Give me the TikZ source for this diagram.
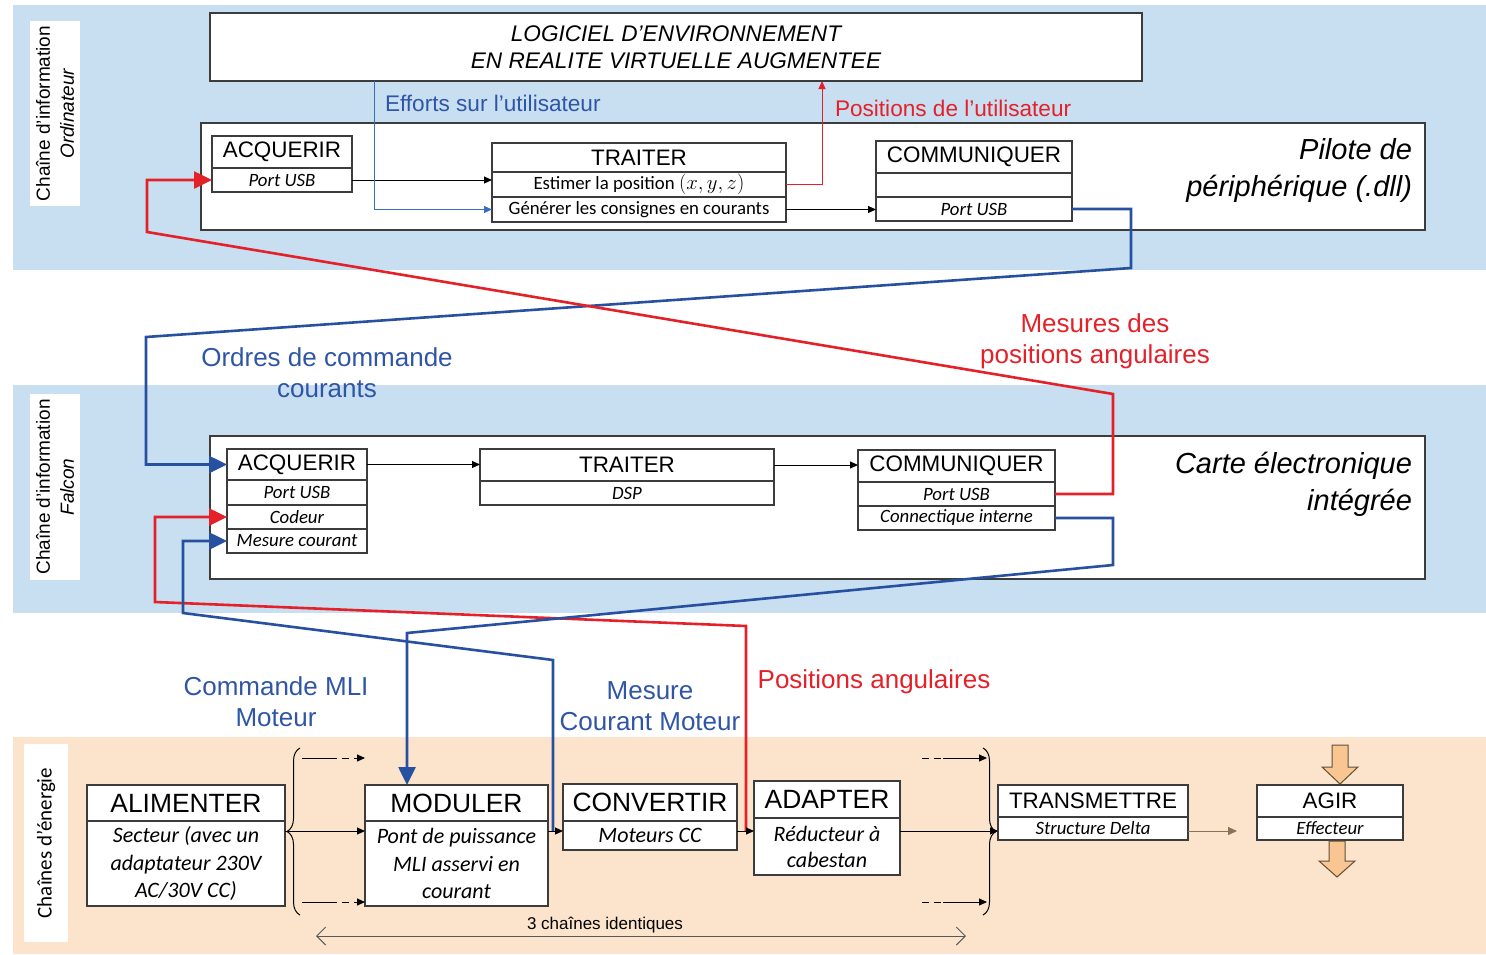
\documentclass[tikz,border=0pt]{standalone}
\usepackage{fontspec}
\setmainfont{Liberation Sans}
\newfontfamily\cali{Carlito}
\usetikzlibrary{positioning,arrows.meta,decorations.pathreplacing}

\definecolor{bgblue}{HTML}{C8DFF2}
\definecolor{bgpeach}{HTML}{FCE4CC}
\definecolor{boxline}{HTML}{3C3C3C}
\definecolor{cred}{HTML}{E42028}
\definecolor{cblue}{HTML}{2850A0}
\definecolor{tblue}{HTML}{2F55A6}
\definecolor{lblue}{HTML}{3A6CC2}
\definecolor{cbrown}{HTML}{8A7152}
\definecolor{corange}{HTML}{F9C590}

\newcommand{\fhead}{\fontsize{22.4}{26}\selectfont}
\newcommand{\fbighead}{\fontsize{26.4}{30}\selectfont}
\newcommand{\fsub}{\cali\itshape\fontsize{18.8}{22}\selectfont}
\newcommand{\fsubr}{\cali\fontsize{18.8}{22}\selectfont}
\newcommand{\fbody}{\cali\itshape\fontsize{22}{27.5}\selectfont}
\newcommand{\flabel}{\fontsize{26}{31}\selectfont}
\newcommand{\fsmall}{\fontsize{22.6}{27}\selectfont}
\newcommand{\flogi}{\itshape\fontsize{22.6}{27}\selectfont}
\newcommand{\fbig}{\itshape\fontsize{29}{37}\selectfont}
\newcommand{\fside}{\fontsize{19}{24}\selectfont}
\newcommand{\fmath}{\fontsize{21.5}{22}\selectfont}

\begin{document}
\begin{tikzpicture}[x=1pt,y=-1pt,
    every node/.style={inner sep=0pt,outer sep=0pt},
    cell/.style={draw=boxline,line width=1.2pt,fill=white,anchor=north west},
    hd/.style={cell,font=\fhead},
    bhd/.style={cell,font=\fbighead},
    sub/.style={cell,font=\fsub},
    subr/.style={cell,font=\fsubr},
    body/.style={cell,font=\fbody,align=center},
    frame/.style={draw=boxline,line width=1.5pt,fill=white,anchor=north west},
    side/.style={fill=white,rotate=90,align=center,font=\fside},
    arr/.style={line width=1pt,-{Triangle[length=8pt,width=7pt]}},
    arrblue/.style={arr,draw=lblue,-{Triangle[length=8pt,width=7pt,fill=lblue]}},
    arrred/.style={arr,draw=cred,-{Triangle[length=8pt,width=7pt,fill=cred]}},
    redthick/.style={draw=cred,line width=2.6pt,-{Triangle[length=18pt,width=17pt]}},
    bluethick/.style={draw=cblue,line width=2.6pt,-{Triangle[length=18pt,width=17pt]}},
    dash7/.style={dash pattern=on 7pt off 5pt},
    blockarrow/.style={fill=corange,draw=cbrown!70!black,line width=1pt}]
\useasboundingbox (0,0) rectangle (1486,954);

% bandes de fond
\fill[bgblue] (13,5) rectangle (1486,270);
\fill[bgblue] (13,385) rectangle (1486,613);
\fill[bgpeach] (13,737) rectangle (1486,954);

\node[side,minimum width=185pt,minimum height=50pt] (sideT) at (55,113.5) {Chaîne d’information\\\textit{Ordinateur}};
\node[side,minimum width=186pt,minimum height=50pt] (sideM) at (55,487) {Chaîne d’information\\\textit{Falcon}};
\node[side,minimum width=198pt,minimum height=44pt,font=\cali\fontsize{21}{24}\selectfont] (sideB) at (46,843) {Chaînes d’énergie};

% ordinateur
\node[frame,minimum width=932pt,minimum height=68pt,align=center,font=\flogi] (logi) at (210,13) {LOGICIEL D’ENVIRONNEMENT\\EN REALITE VIRTUELLE AUGMENTEE};
\node[frame,minimum width=1224pt,minimum height=107pt] (pilote) at (201,123) {};
\node[font=\fbig,align=right,anchor=east] (pilotet) at (1412,170) {Pilote de\\périphérique (.dll)};

\node[hd,minimum width=140pt,minimum height=32pt] (tAh) at (212,136) {ACQUERIR};
\node[sub,minimum width=140pt,minimum height=24pt,below=0pt of tAh] (tAp) {Port USB};

\node[hd,minimum width=294pt,minimum height=29pt] (tTh) at (492,143) {TRAITER};
\node[subr,minimum width=294pt,minimum height=25pt,below=0pt of tTh] (tT2) {Estimer la position {\fmath$(x,y,z)$}};
\node[subr,minimum width=294pt,minimum height=25pt,below=0pt of tT2] (tT3) {Générer les consignes en courants};

\node[hd,minimum width=196pt,minimum height=32pt] (tCh) at (876,141) {COMMUNIQUER};
\node[sub,minimum width=196pt,minimum height=24pt,below=0pt of tCh] (tC2) {};
\node[sub,minimum width=196pt,minimum height=24pt,below=0pt of tC2] (tC3) {Port USB};

% carte Falcon
\node[frame,minimum width=1215pt,minimum height=143pt] (carte) at (210,436) {};
\node[font=\fbig,align=right,anchor=east] (cartet) at (1412,484) {Carte électronique\\intégrée};

\node[hd,minimum width=140pt,minimum height=31pt] (mAh) at (227,449) {ACQUERIR};
\node[sub,minimum width=140pt,minimum height=25pt,below=0pt of mAh] (mA2) {Port USB};
\node[sub,minimum width=140pt,minimum height=24pt,below=0pt of mA2] (mA3) {Codeur};
\node[sub,minimum width=140pt,minimum height=24pt,below=0pt of mA3] (mA4) {Mesure courant};

\node[hd,minimum width=294pt,minimum height=32pt] (mTh) at (480,449) {TRAITER};
\node[sub,minimum width=294pt,minimum height=24pt,below=0pt of mTh] (mT2) {DSP};

\node[hd,minimum width=197pt,minimum height=32pt] (mCh) at (858,450) {COMMUNIQUER};
\node[sub,minimum width=197pt,minimum height=24pt,below=0pt of mCh] (mC2) {Port USB};
\node[sub,minimum width=197pt,minimum height=24pt,below=0pt of mC2] (mC3) {Connectique interne};

% chaines d'energie
\node[bhd,minimum width=198pt,minimum height=36pt] (bAlh) at (87,785) {ALIMENTER};
\node[body,minimum width=198pt,minimum height=85pt,below=0pt of bAlh] (bAlb) {Secteur (avec un\\adaptateur 230V\\AC/30V CC)};
\node[bhd,minimum width=183pt,minimum height=36pt] (bMoh) at (365,785) {MODULER};
\node[body,minimum width=183pt,minimum height=85pt,below=0pt of bMoh] (bMob) {Pont de puissance\\MLI asservi en\\courant};
\node[bhd,minimum width=174pt,minimum height=37pt] (bCoh) at (563,784) {CONVERTIR};
\node[body,minimum width=174pt,minimum height=29pt,below=0pt of bCoh] (bCob) {Moteurs CC};
\node[bhd,minimum width=146pt,minimum height=37pt] (bAdh) at (754,781) {ADAPTER};
\node[body,minimum width=146pt,minimum height=57pt,font=\cali\itshape\fontsize{22}{26}\selectfont,below=0pt of bAdh] (bAdb) {Réducteur à\\cabestan};
\node[hd,minimum width=190pt,minimum height=32pt] (bTrh) at (998,785) {TRANSMETTRE};
\node[sub,minimum width=190pt,minimum height=23pt,below=0pt of bTrh] (bTrb) {Structure Delta};
\node[hd,minimum width=146pt,minimum height=32pt] (bAgh) at (1257,785) {AGIR};
\node[sub,minimum width=146pt,minimum height=23pt,below=0pt of bAgh] (bAgb) {Effecteur};

% points libres
\coordinate (efforts) at ([xshift=164pt]logi.south west);
\coordinate (posU) at ([xshift=612pt]logi.south west);
\coordinate (jL) at ([yshift=-10pt]bAlh.south east);
\coordinate (mesI) at (553,831);
\coordinate (posA) at (746,831);
\coordinate (modin) at ([xshift=42pt]bMoh.north west);
\coordinate (agirin) at ([xshift=-20pt]jL -| bAgb.west);

% liaisons ordinateur
\draw[arr] (tAp.east) -- (tAp.east -| tT2.west);
\draw[arrblue] (efforts) |- (tT3.west);
\draw[arr] (tT3.east) -- (tT3.east -| tC3.west);
\draw[arrred] (tT2.east) -| (posU);

% liaisons carte
\draw[arr] (mAh.east) -- (mAh.east -| mTh.west);
\draw[arr] (mTh.east) -- (mTh.east -| mCh.west);

% liaisons entre niveaux
\draw[bluethick] (tC3.east) -| (1131,268) -- (146,337) |- (mAh.west);
\draw[redthick] (mC2.east) -| (1113,394) -- (147,232) |- (tAp.west);
\draw[redthick] (posA) -- (746,626) -- (155,602) |- (mA3.west);
\draw[bluethick] (mesI) -- (553,660) -- (183,613) |- (mA4.west);
\draw[bluethick] (mC3.east) -| (1113,565) -- (407,633) -- (modin);

% chaine d'energie
\draw[line width=1pt] (300,915) [decorate,decoration={brace,amplitude=13pt}] -- (300,748);
\draw[line width=1pt] (983,748) [decorate,decoration={brace,amplitude=13pt}] -- (983,915);
\draw[arr] (jL) -- (jL -| bMob.west);
\draw[arr] (jL -| bMob.east) -- (jL -| bCob.west);
\draw[arr] (jL -| bCob.east) -- (jL -| bAdb.west);
\draw[arr] (jL -| bAdb.east) -- (jL -| bTrb.west);
\draw[arr,draw=cbrown,-{Triangle[length=9pt,width=8pt,fill=cbrown]}] (jL -| bTrb.east) -- (agirin);
\draw[line width=1pt] (302,758) -- (330,758);
\draw[arr,dash7] (330,758) -- (365,758);
\draw[line width=1pt] (302,902) -- (330,902);
\draw[arr,dash7] (330,902) -- (365,902);
\draw[line width=1pt,dash7] (922,758) -- (943,758);
\draw[arr] (943,758) -- (987,758);
\draw[line width=1pt,dash7] (922,902) -- (943,902);
\draw[arr] (943,902) -- (987,902);

\draw[blockarrow] (1332,745) -- (1348,745) -- (1348,767) -- (1358,767) -- (1340,784) -- (1322,767) -- (1332,767) -- cycle;
\draw[blockarrow] (1329,841) -- (1345,841) -- (1345,861) -- (1355,861) -- (1337,877) -- (1319,861) -- (1329,861) -- cycle;

\draw[line width=1pt,draw=black!65,{Straight Barb[length=9pt,width=18pt]}-{Straight Barb[length=9pt,width=18pt]}] (316,936) -- (966,936);
\node[font=\fontsize{17}{20}\selectfont] (chainesL) at (605,925) {3 chaînes identiques};

% etiquettes
\node[font=\fsmall,text=tblue,anchor=west] (effL) at (385,103) {Efforts sur l’utilisateur};
\node[font=\fsmall,text=cred,anchor=west] (posUL) at (835,108) {Positions de l’utilisateur};
\node[font=\flabel,text=tblue,align=center] (ordL) at (327,373) {Ordres de commande\\courants};
\node[font=\flabel,text=cred,align=center] (mesL) at (1095,341) {Mesures des\\positions angulaires};
\node[font=\flabel,text=tblue,align=center] (cmdL) at (276,702) {Commande MLI\\Moteur};
\node[font=\flabel,text=tblue,align=center] (mcL) at (650,706) {Mesure\\Courant Moteur};
\node[font=\flabel,text=cred] (paL) at (874,682) {Positions angulaires};
\end{tikzpicture}
\end{document}
